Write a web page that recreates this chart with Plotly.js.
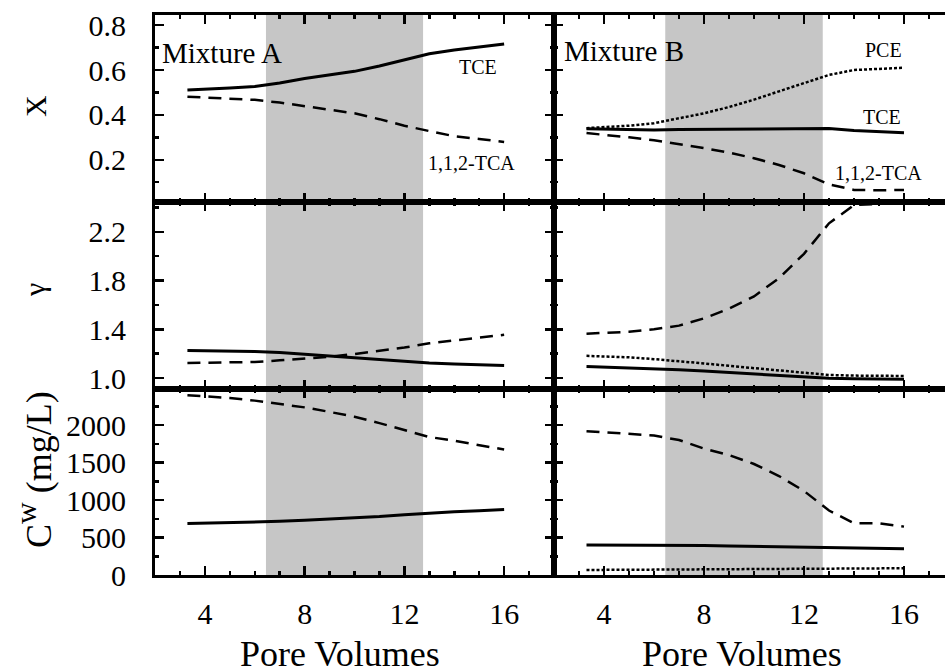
<!DOCTYPE html>
<html>
<head>
<meta charset="utf-8">
<script src="https://cdn.plot.ly/plotly-3.0.1.min.js"></script>
<style>html,body{margin:0;padding:0;background:#fff;}#chart{width:945px;height:671px;}</style>
</head>
<body>
<div id="chart"></div>
<script>
// Pore volumes
const poreVolumes = [3.3, 4, 5, 6, 7, 8, 9, 10, 11, 12, 13, 14, 15, 16];

// Mixture A: mole fraction X
const xA_TCE = [0.511, 0.514, 0.520, 0.527, 0.542, 0.562, 0.578, 0.594, 0.618, 0.646, 0.672, 0.689, 0.701, 0.716];
const xA_TCA = [0.481, 0.478, 0.473, 0.467, 0.455, 0.440, 0.424, 0.407, 0.381, 0.352, 0.328, 0.305, 0.293, 0.279];
// Mixture B: mole fraction X
const xB_PCE = [0.341, 0.345, 0.352, 0.363, 0.385, 0.407, 0.435, 0.468, 0.505, 0.541, 0.578, 0.600, 0.605, 0.610];
const xB_TCE = [0.338, 0.336, 0.334, 0.333, 0.335, 0.336, 0.337, 0.338, 0.339, 0.340, 0.339, 0.331, 0.325, 0.321];
const xB_TCA = [0.319, 0.312, 0.300, 0.287, 0.270, 0.252, 0.232, 0.207, 0.177, 0.140, 0.090, 0.066, 0.064, 0.066];

// Activity coefficient gamma
const gA_TCE = [1.226, 1.225, 1.222, 1.218, 1.210, 1.195, 1.185, 1.170, 1.155, 1.138, 1.124, 1.115, 1.108, 1.102];
const gA_TCA = [1.124, 1.125, 1.127, 1.132, 1.145, 1.158, 1.175, 1.197, 1.222, 1.250, 1.285, 1.308, 1.330, 1.355];
const gB_TCA = [1.364, 1.370, 1.380, 1.400, 1.430, 1.490, 1.570, 1.670, 1.820, 2.020, 2.270, 2.420, 2.430, 2.430];
const gB_PCE = [1.182, 1.178, 1.170, 1.155, 1.140, 1.120, 1.100, 1.080, 1.060, 1.040, 1.025, 1.020, 1.018, 1.017];
const gB_TCE = [1.094, 1.090, 1.083, 1.076, 1.068, 1.057, 1.045, 1.030, 1.018, 1.004, 0.998, 0.995, 0.993, 0.990];

// Aqueous concentration Cw (mg/L)
const cA_TCE = [686, 690, 696, 705, 716, 730, 745, 760, 780, 805, 827, 845, 858, 872];
const cA_TCA = [2398, 2385, 2360, 2325, 2285, 2235, 2175, 2110, 2025, 1930, 1840, 1790, 1730, 1673];
const cB_TCA = [1918, 1905, 1885, 1860, 1800, 1685, 1600, 1480, 1320, 1120, 860, 690, 690, 645];
const cB_TCE = [400, 400, 400, 398, 396, 395, 388, 383, 378, 376, 375, 370, 358, 350];
const cB_PCE = [67, 68, 70, 72, 75, 78, 80, 82, 84, 85, 86, 87, 88, 90];

// Flushing interval (shaded)
const shadeStart = 6.45, shadeEnd = 12.75;

const FONT = 'Liberation Serif';
const SOLID = {color: 'black', width: 3, dash: 'solid'};
const DASH = {color: 'black', width: 2.5, dash: '13px,8px'};
const DOT = {color: 'black', width: 2.5, dash: '3px,2px'};

function tr(y, xa, ya, line) {
  return {x: poreVolumes, y: y, xaxis: xa, yaxis: ya, type: 'scatter', mode: 'lines', line: line, hoverinfo: 'skip', showlegend: false};
}

const data = [
  tr(xA_TCE, 'x', 'y', SOLID), tr(xA_TCA, 'x', 'y', DASH),
  tr(xB_PCE, 'x2', 'y2', DOT), tr(xB_TCE, 'x2', 'y2', SOLID), tr(xB_TCA, 'x2', 'y2', DASH),
  tr(gA_TCE, 'x3', 'y3', SOLID), tr(gA_TCA, 'x3', 'y3', DASH),
  tr(gB_TCA, 'x4', 'y4', DASH), tr(gB_PCE, 'x4', 'y4', DOT), tr(gB_TCE, 'x4', 'y4', SOLID),
  tr(cA_TCE, 'x5', 'y5', SOLID), tr(cA_TCA, 'x5', 'y5', DASH),
  tr(cB_TCA, 'x6', 'y6', DASH), tr(cB_TCE, 'x6', 'y6', SOLID), tr(cB_PCE, 'x6', 'y6', DOT)
];

const W = 945, H = 671;
const L0 = 155 / W, LM = 554 / W;
const yTop = [1 - 202 / H, 1 - 15 / H];
const yMid = [1 - 389 / H, 1 - 202 / H];
const yBot = [1 - 575 / H, 1 - 389 / H];

function xax(domain, range, anchor, labels) {
  return {
    domain: domain, range: range, anchor: anchor,
    showline: true, linewidth: 3, linecolor: 'black', mirror: 'ticks',
    ticks: 'inside', ticklen: 9, tickwidth: 2.5, tickcolor: 'black',
    tick0: 4, dtick: 4, showgrid: false, zeroline: false,
    minor: {dtick: 1, tick0: 0, ticks: 'inside', ticklen: 4, tickwidth: 2.5, tickcolor: 'black', showgrid: false},
    showticklabels: labels, ticklabelstandoff: 10,
    tickfont: {family: FONT, size: 30, color: 'black'}, fixedrange: true
  };
}
function yax(domain, range, anchor, tick0, dtick, minor, fmt, labels, mirror) {
  return {
    domain: domain, range: range, anchor: anchor,
    showline: true, linewidth: 3, linecolor: 'black', mirror: mirror,
    ticks: 'inside', ticklen: 9, tickwidth: 2.5, tickcolor: 'black',
    tick0: tick0, dtick: dtick, tickformat: fmt, showgrid: false, zeroline: false,
    minor: {dtick: minor, tick0: tick0, ticks: 'inside', ticklen: 4, tickwidth: 2.5, tickcolor: 'black', showgrid: false},
    showticklabels: labels, ticklabelstandoff: 20,
    tickfont: {family: FONT, size: 30, color: 'black'}, fixedrange: true
  };
}

function ann(text, xref, yref, x, y, size, extra) {
  return Object.assign({text: text, xref: xref, yref: yref, x: x, y: y, xanchor: 'center', yanchor: 'middle',
    showarrow: false, font: {family: FONT, size: size, color: 'black'}}, extra || {});
}

const xR = [2, 2 + (945 - 554) / 25];
const layout = {
  width: W, height: H,
  margin: {l: 0, r: 0, t: 0, b: 0, pad: 0},
  paper_bgcolor: 'white', plot_bgcolor: 'white',
  showlegend: false,
  xaxis: xax([L0, LM], [2, 18], 'y', false),
  yaxis: yax(yTop, [0.012, 0.845], 'x', 0, 0.2, 0.1, '.1f', true, 'ticks'),
  xaxis2: xax([LM, 1], xR, 'y2', false),
  yaxis2: yax(yTop, [0.012, 0.845], 'x2', 0, 0.2, 0.1, '.1f', false, false),
  xaxis3: xax([L0, LM], [2, 18], 'y3', false),
  yaxis3: yax(yMid, [0.91, 2.445], 'x3', 1.0, 0.4, 0.2, '.1f', true, 'ticks'),
  xaxis4: xax([LM, 1], xR, 'y4', false),
  yaxis4: yax(yMid, [0.91, 2.445], 'x4', 1.0, 0.4, 0.2, '.1f', false, false),
  xaxis5: xax([L0, LM], [2, 18], 'y5', true),
  yaxis5: yax(yBot, [0, 2480], 'x5', 0, 500, 250, 'd', true, 'ticks'),
  xaxis6: xax([LM, 1], xR, 'y6', true),
  yaxis6: yax(yBot, [0, 2480], 'x6', 0, 500, 250, 'd', false, false),
  shapes: [
    {type: 'rect', xref: 'x', yref: 'paper', x0: shadeStart, x1: shadeEnd, y0: yBot[0], y1: yTop[1], fillcolor: '#c6c6c6', line: {width: 0}, layer: 'below'},
    {type: 'rect', xref: 'x2', yref: 'paper', x0: shadeStart, x1: shadeEnd, y0: yBot[0], y1: yTop[1], fillcolor: '#c6c6c6', line: {width: 0}, layer: 'below'}
  ],
  annotations: [
    ann('Mixture A', 'x', 'y', 2.2, 0.677, 29, {xanchor: 'left'}),
    ann('TCE', 'x', 'y', 14.97, 0.615, 20),
    ann('1,1,2-TCA', 'x', 'y', 14.71, 0.186, 20),
    ann('Mixture B', 'x2', 'y2', 2.3, 0.685, 29, {xanchor: 'left'}),
    ann('PCE', 'x2', 'y2', 15.16, 0.689, 20),
    ann('TCE', 'x2', 'y2', 15.1, 0.392, 20),
    ann('1,1,2-TCA', 'x2', 'y2', 14.97, 0.142, 20),
    ann('X', 'paper', 'paper', 36 / W, 1 - 106 / H, 30, {textangle: -90}),
    ann('γ', 'paper', 'paper', 34 / W, 1 - 290 / H, 30, {textangle: -90}),
    ann('C<sup><span style="font-size:30px">w</span></sup> (mg/L)', 'paper', 'paper', 34 / W, 1 - 470 / H, 36, {textangle: -90}),
    ann('Pore Volumes', 'paper', 'paper', 340 / W, 1 - 654 / H, 36),
    ann('Pore Volumes', 'paper', 'paper', 741.5 / W, 1 - 654 / H, 36)
  ]
};

Plotly.newPlot('chart', data, layout, {staticPlot: true, displayModeBar: false});
</script>
</body>
</html>
